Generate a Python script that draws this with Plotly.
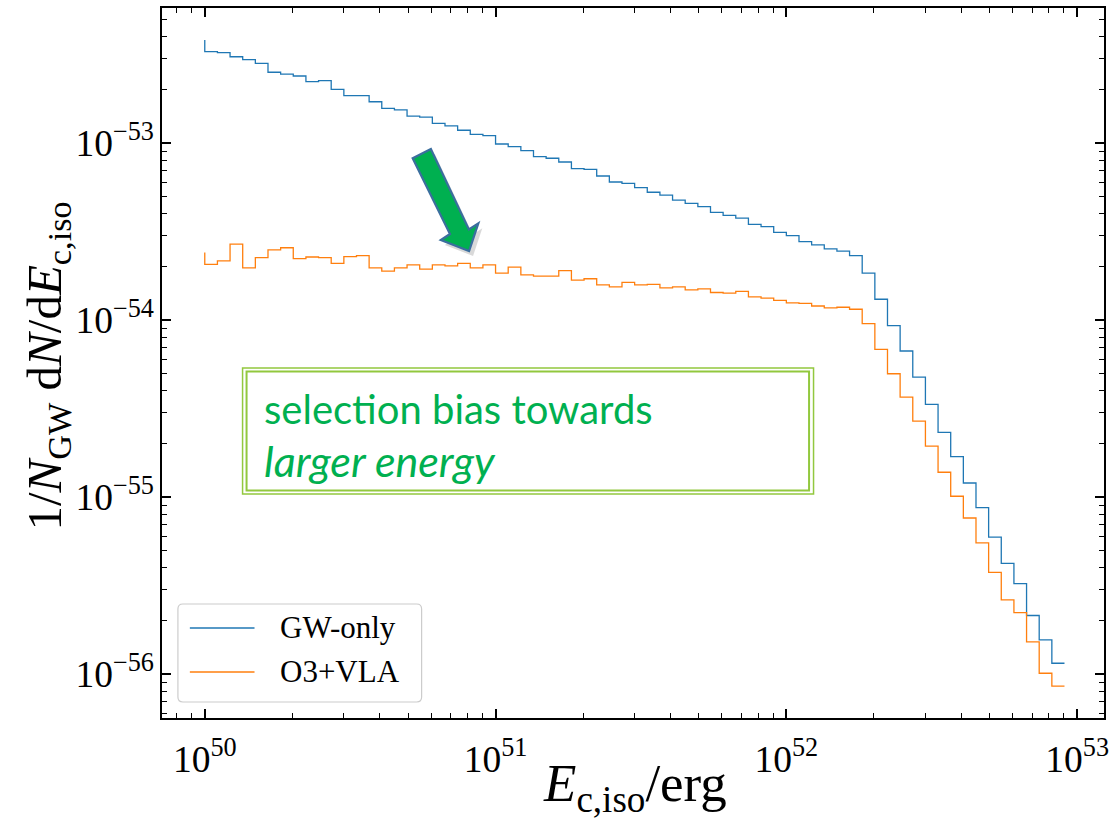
import numpy as np
import plotly.graph_objects as go

# ---------------- data ----------------
# histogram bin edges: 69 log-spaced bins between 1e50 and 1e53 (last bin empty)
bin_edges = np.logspace(50, 53, 70)[:69]

# first value = start of the step line at the first edge, then one value per bin
gw_only = [3.82e-53,
           3.28e-53, 3.24e-53, 3.07e-53, 2.96e-53, 2.82e-53, 2.51e-53, 2.45e-53, 2.39e-53,
           2.22e-53, 2.25e-53, 2.01e-53, 1.85e-53, 1.85e-53, 1.71e-53, 1.57e-53, 1.54e-53,
           1.42e-53, 1.40e-53, 1.29e-53, 1.25e-53, 1.18e-53, 1.12e-53, 1.10e-53, 9.87e-54,
           9.53e-54, 9.05e-54, 8.37e-54, 8.20e-54, 7.81e-54, 7.16e-54, 7.10e-54, 6.51e-54,
           6.02e-54, 5.92e-54, 5.59e-54, 5.27e-54, 5.08e-54, 4.76e-54, 4.56e-54, 4.37e-54,
           4.06e-54, 3.90e-54, 3.76e-54, 3.47e-54, 3.37e-54, 3.13e-54, 3.00e-54, 2.77e-54,
           2.66e-54, 2.52e-54, 2.45e-54, 2.31e-54, 1.84e-54, 1.31e-54, 9.29e-55, 6.68e-55,
           4.76e-55, 3.34e-55, 2.32e-55, 1.69e-55, 1.20e-55, 8.70e-56, 5.94e-56, 4.22e-56,
           3.24e-56, 2.14e-56, 1.56e-56, 1.15e-56]

o3_vla = [2.41e-54,
          2.06e-54, 2.16e-54, 2.68e-54, 1.97e-54, 2.25e-54, 2.49e-54, 2.56e-54, 2.22e-54,
          2.27e-54, 2.25e-54, 2.09e-54, 2.28e-54, 2.31e-54, 1.97e-54, 1.89e-54, 1.97e-54,
          2.05e-54, 1.94e-54, 2.05e-54, 2.02e-54, 2.09e-54, 1.97e-54, 2.05e-54, 1.84e-54,
          1.99e-54, 1.80e-54, 1.77e-54, 1.77e-54, 1.90e-54, 1.68e-54, 1.71e-54, 1.58e-54,
          1.54e-54, 1.63e-54, 1.58e-54, 1.59e-54, 1.52e-54, 1.54e-54, 1.48e-54, 1.50e-54,
          1.43e-54, 1.42e-54, 1.45e-54, 1.35e-54, 1.33e-54, 1.29e-54, 1.25e-54, 1.24e-54,
          1.20e-54, 1.17e-54, 1.18e-54, 1.15e-54, 9.53e-55, 6.83e-55, 4.97e-55, 3.67e-55,
          2.68e-55, 1.94e-55, 1.38e-55, 1.01e-55, 7.61e-56, 5.50e-56, 3.75e-56, 2.62e-56,
          2.22e-56, 1.52e-56, 1.01e-56, 8.55e-57]

series_names = ["GW-only", "O3+VLA"]
series_colors = ["#1f77b4", "#ff7f0e"]

annotation_line1 = "selection bias towards"
annotation_line2 = "larger energy"

# ---------------- layout geometry ----------------
W, H = 1109, 827
L, R, T, B = 162, 1109, 8, 718      # plot area in pixels


def px(x):
    return (x - L) / (R - L)


def py(y):
    return (B - y) / (B - T)


def path_from(points):
    s = "M " + " L ".join(f"{px(x):.5f},{py(y):.5f}" for x, y in points) + " Z"
    return s


fig = go.Figure()
for name, vals, col in zip(series_names, [gw_only, o3_vla], series_colors):
    fig.add_trace(go.Scatter(x=bin_edges, y=vals, mode="lines", name=name,
                             line=dict(color=col, width=1.3, shape="vh"),
                             showlegend=False))

serif = "Liberation Serif"
axis_common = dict(type="log", showline=True, linecolor="black", linewidth=2,
                   mirror="allticks", ticks="inside", ticklen=9, tickwidth=1.5,
                   tickcolor="black", showgrid=False, zeroline=False, dtick=1,
                   exponentformat="power", showexponent="all",
                   ticklabeloverflow="allow",
                   tickfont=dict(family=serif, size=30, color="black"),
                   minor=dict(ticks="inside", ticklen=5, tickwidth=1,
                              tickcolor="black", dtick="D1", showgrid=False))

fig.update_xaxes(range=[49.8529, 53.0924], ticklabelstandoff=8, **axis_common)
fig.update_yaxes(range=[-56.2486, -52.2373], **axis_common)

shapes = []
annotations = []

# axis titles
annotations.append(dict(xref="paper", yref="paper", x=px(638), y=py(787),
                        text="<i>E</i><sub>c,iso</sub>/erg", showarrow=False,
                        font=dict(family=serif, size=53, color="black"),
                        xanchor="center", yanchor="middle"))
annotations.append(dict(xref="paper", yref="paper", x=px(46), y=py(366),
                        text="1/<i>N</i><sub>GW</sub> d<i>N</i>/d<i>E</i><sub>c,iso</sub>",
                        showarrow=False, textangle=-90,
                        font=dict(family=serif, size=49, color="black"),
                        xanchor="center", yanchor="middle"))

# legend (drawn by hand to match the reference's geometry)
lx0, ly0, lx1, ly1, r = 178, 604, 423, 702, 5
legend_path = (f"M {px(lx0+r)},{py(ly0)} L {px(lx1-r)},{py(ly0)} "
               f"Q {px(lx1)},{py(ly0)} {px(lx1)},{py(ly0+r)} L {px(lx1)},{py(ly1-r)} "
               f"Q {px(lx1)},{py(ly1)} {px(lx1-r)},{py(ly1)} L {px(lx0+r)},{py(ly1)} "
               f"Q {px(lx0)},{py(ly1)} {px(lx0)},{py(ly1-r)} L {px(lx0)},{py(ly0+r)} "
               f"Q {px(lx0)},{py(ly0)} {px(lx0+r)},{py(ly0)} Z")
shapes.append(dict(type="path", xref="paper", yref="paper", path=legend_path,
                   line=dict(color="#cccccc", width=1.2),
                   fillcolor="rgba(255,255,255,0.8)", layer="above"))
for i, (name, col) in enumerate(zip(series_names, series_colors)):
    yy = 628 + 44 * i
    shapes.append(dict(type="line", xref="paper", yref="paper",
                       x0=px(190), x1=px(255), y0=py(yy), y1=py(yy),
                       line=dict(color=col, width=1.3), layer="above"))
    annotations.append(dict(xref="paper", yref="paper", x=px(279), y=py(yy - 1),
                            text=name, showarrow=False, xanchor="left", yanchor="middle",
                            font=dict(family=serif, size=31, color="black")))

# double green box
box_col = "#92C83E"
shapes.append(dict(type="rect", xref="paper", yref="paper",
                   x0=px(243), x1=px(817), y0=py(494), y1=py(368),
                   line=dict(color=box_col, width=1.5), fillcolor="rgba(0,0,0,0)"))
shapes.append(dict(type="rect", xref="paper", yref="paper",
                   x0=px(247), x1=px(812.5), y0=py(490.5), y1=py(371.5),
                   line=dict(color=box_col, width=2), fillcolor="rgba(0,0,0,0)"))
txt_col = "#00B050"
annotations.append(dict(xref="paper", yref="paper", x=px(263), y=py(409),
                        text=annotation_line1, showarrow=False, xanchor="left",
                        yanchor="middle", font=dict(family="Lato", size=40, color=txt_col)))
annotations.append(dict(xref="paper", yref="paper", x=px(263), y=py(460),
                        text=f"<i>{annotation_line2}</i>", showarrow=False, xanchor="left",
                        yanchor="middle", font=dict(family="Lato", size=43, color=txt_col)))

# block arrow
arrow_pts = [(414, 158.3), (432.3, 149), (470.5, 229.5), (480, 223.3),
             (470.7, 251), (442.3, 240), (451.5, 234)]
shadow_pts = [(x + 4, y + 5) for x, y in arrow_pts]
shapes.append(dict(type="path", xref="paper", yref="paper", path=path_from(shadow_pts),
                   line=dict(width=0), fillcolor="rgba(0,0,0,0.15)"))
shapes.append(dict(type="path", xref="paper", yref="paper", path=path_from(arrow_pts),
                   line=dict(color="#3B6E9E", width=2.2), fillcolor="#00B050"))

fig.update_layout(width=W, height=H, margin=dict(l=L, r=W - R, t=T, b=H - B),
                  paper_bgcolor="white", plot_bgcolor="white",
                  shapes=shapes, annotations=annotations, showlegend=False)

fig.write_html("out.html")
